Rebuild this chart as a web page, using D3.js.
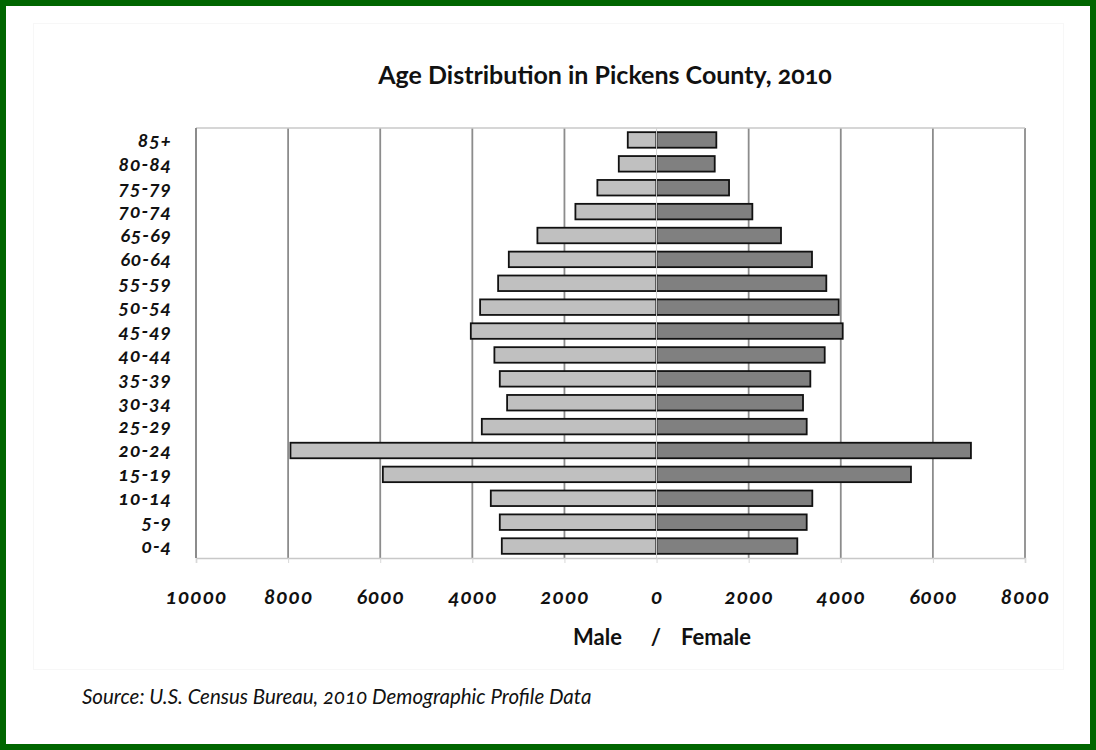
<!DOCTYPE html>
<html lang="en">

<head>
    <meta charset="UTF-8">
    <title>Age Distribution in Pickens County, 2010</title>
    <script src="https://cdn.jsdelivr.net/npm/d3@7"></script>
    <style>
        body { margin: 0; background: #fff; }
        svg text { font-family: Lato, "Open Sans", sans-serif; font-variant-numeric: oldstyle-nums; }
    </style>
</head>

<body>
    <svg></svg>
</body>
<script>
    const width = 1096;
    const height = 750;

    // age groups, bottom to top as in the picture
    const ageGroups = ['0-4', '5-9', '10-14', '15-19', '20-24', '25-29', '30-34', '35-39', '40-44',
        '45-49', '50-54', '55-59', '60-64', '65-69', '70-74', '75-79', '80-84', '85+'];
    // values
    const male = [3360, 3404, 3599, 5943, 7949, 3794, 3245, 3404, 3521,
        4033, 3831, 3440, 3208, 2587, 1762, 1285, 820, 625];
    const female = [3056, 3260, 3382, 5524, 6826, 3260, 3180, 3339, 3651,
        4042, 3955, 3686, 3375, 2702, 2080, 1574, 1263, 1298];
    const tickValues = [-10000, -8000, -6000, -4000, -2000, 0, 2000, 4000, 6000, 8000];

    const plot = { left: 196, right: 1025, top: 128, bottom: 558 };

    const svg = d3.select('svg')
        .attr('width', width)
        .attr('height', height);

    // green frame + faint chart area
    svg.append('rect')
        .attr('x', 3).attr('y', 3)
        .attr('width', width - 6).attr('height', height - 6)
        .attr('fill', '#fff')
        .attr('stroke', '#006600')
        .attr('stroke-width', 6);
    svg.append('rect')
        .attr('x', 33.5).attr('y', 23.5)
        .attr('width', 1030).attr('height', 646)
        .attr('fill', 'none')
        .attr('stroke', '#f7f7f7');

    const x = d3.scaleLinear()
        .domain([-10000, 8000])
        .range([plot.left, plot.right]);

    const y = d3.scaleBand()
        .domain(ageGroups.slice().reverse())
        .range([plot.top, plot.bottom])
        .paddingInner(0.35)
        .paddingOuter(0.175);

    // vertical gridlines
    svg.append('g')
        .selectAll('line')
        .data(tickValues.filter(d => d !== 0 && d !== -10000))
        .join('line')
        .attr('x1', d => x(d)).attr('x2', d => x(d))
        .attr('y1', plot.top).attr('y2', plot.bottom)
        .attr('stroke', '#8c8c8c')
        .attr('stroke-width', 1.8);

    // top border of the plot
    svg.append('line')
        .attr('x1', plot.left).attr('x2', plot.right)
        .attr('y1', plot.top).attr('y2', plot.top)
        .attr('stroke', '#c8c8c8')
        .attr('stroke-width', 1.5);

    // bottom axis
    const xAxis = svg.append('g')
        .attr('transform', `translate(0, ${plot.bottom})`)
        .call(d3.axisBottom(x).tickValues(tickValues).tickSize(5).tickFormat(d => Math.abs(d)));
    xAxis.select('.domain').attr('stroke', '#c8c8c8').attr('stroke-width', 1.5);
    xAxis.selectAll('.tick line').attr('stroke', '#d8d8d8');
    xAxis.selectAll('.tick text')
        .attr('y', 39)
        .attr('dy', '0.35em')
        .attr('font-size', 21)
        .attr('letter-spacing', 1)
        .attr('font-weight', 'bold')
        .attr('font-style', 'italic')
        .attr('fill', '#111');

    // left axis line
    svg.append('line')
        .attr('x1', plot.left).attr('x2', plot.left)
        .attr('y1', plot.top).attr('y2', plot.bottom)
        .attr('stroke', '#8c8c8c')
        .attr('stroke-width', 2);

    // bars
    const bars = svg.append('g');
    bars.selectAll('.male')
        .data(ageGroups)
        .join('rect')
        .attr('class', 'male')
        .attr('x', (d, i) => x(-male[i]))
        .attr('y', d => y(d))
        .attr('width', (d, i) => x(0) - x(-male[i]))
        .attr('height', y.bandwidth())
        .attr('fill', '#c0c0c0')
        .attr('stroke', '#111')
        .attr('stroke-width', 1.8);
    bars.selectAll('.female')
        .data(ageGroups)
        .join('rect')
        .attr('class', 'female')
        .attr('x', x(0))
        .attr('y', d => y(d))
        .attr('width', (d, i) => x(female[i]) - x(0))
        .attr('height', y.bandwidth())
        .attr('fill', '#808080')
        .attr('stroke', '#111')
        .attr('stroke-width', 1.8);

    // zero line drawn on top, light
    svg.append('line')
        .attr('x1', x(0)).attr('x2', x(0))
        .attr('y1', plot.top).attr('y2', plot.bottom)
        .attr('stroke', '#d0d0d0')
        .attr('stroke-width', 1);

    // category labels
    svg.append('g')
        .selectAll('text')
        .data(ageGroups)
        .join('text')
        .attr('x', 172)
        .attr('y', d => y(d) + y.bandwidth() / 2)
        .attr('dy', '0.35em')
        .attr('text-anchor', 'end')
        .attr('font-size', 19.5)
        .attr('letter-spacing', 0.9)
        .attr('font-weight', 'bold')
        .attr('font-style', 'italic')
        .attr('fill', '#111')
        .text(d => d);

    // title
    svg.append('text')
        .attr('x', 605)
        .attr('y', 84)
        .attr('text-anchor', 'middle')
        .attr('font-size', 25)
        .attr('font-weight', 'bold')
        .attr('fill', '#111')
        .text('Age Distribution in Pickens County, 2010');

    // axis title
    const axisTitle = svg.append('g')
        .attr('font-size', 22)
        .attr('font-weight', 'bold')
        .attr('fill', '#111');
    axisTitle.append('text').attr('x', 622).attr('y', 645).attr('text-anchor', 'end').text('Male');
    axisTitle.append('text').attr('x', 656).attr('y', 645).attr('text-anchor', 'middle').text('/');
    axisTitle.append('text').attr('x', 681).attr('y', 645).text('Female');

    // source
    svg.append('text')
        .attr('x', 82)
        .attr('y', 704)
        .attr('font-size', 20.5)
        .attr('font-style', 'italic')
        .attr('fill', '#111')
        .text('Source: U.S. Census Bureau, 2010 Demographic Profile Data');
</script>

</html>
